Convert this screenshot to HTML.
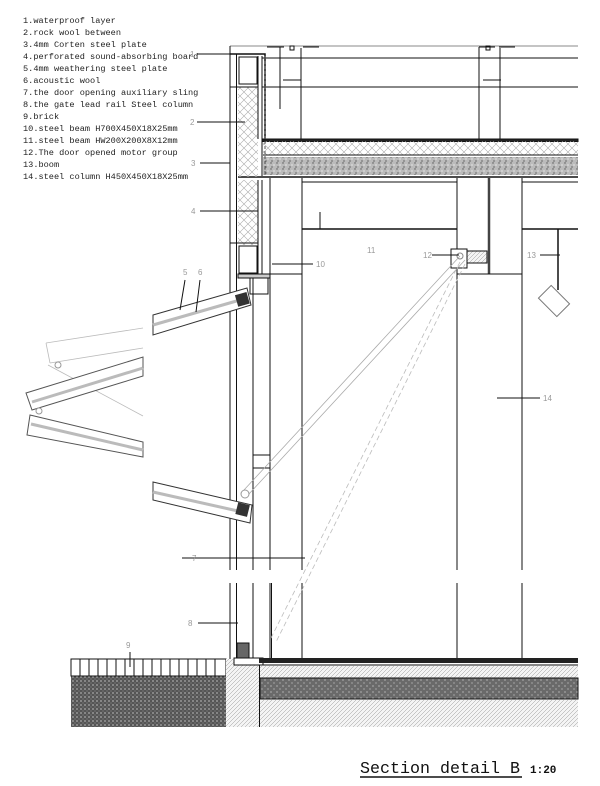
<!DOCTYPE html>
<html><head><meta charset="utf-8"><style>
html,body{margin:0;padding:0;background:#fff;}
svg{display:block;}
.lg{font-family:"Liberation Mono",monospace;font-size:8.6px;fill:#222;}
.lb{font-family:"Liberation Sans",sans-serif;font-size:8px;fill:#999;}
</style></head><body>
<svg width="600" height="786" viewBox="0 0 600 786" xmlns="http://www.w3.org/2000/svg">
<defs>
<pattern id="xh" width="8" height="8" patternUnits="userSpaceOnUse"><path d="M0 0L8 8M8 0L0 8" stroke="#aaa" stroke-width="0.6"/></pattern>
<pattern id="gr" width="6" height="6" patternUnits="userSpaceOnUse"><rect width="6" height="6" fill="#bbb"/><circle cx="1" cy="1" r="0.7" fill="#555"/><circle cx="4" cy="3" r="0.6" fill="#fff"/><circle cx="2" cy="5" r="0.6" fill="#333"/></pattern>
<pattern id="dg" width="6" height="6" patternUnits="userSpaceOnUse"><rect width="6" height="6" fill="#6a6a6a"/><circle cx="1" cy="2" r="0.6" fill="#ddd"/><circle cx="4" cy="5" r="0.5" fill="#fff"/></pattern>
<pattern id="hz" width="4" height="4" patternUnits="userSpaceOnUse"><rect width="4" height="4" fill="#f4f4f4"/><path d="M0 4L4 0" stroke="#999" stroke-width="0.5"/></pattern>
<pattern id="dk" width="4" height="4" patternUnits="userSpaceOnUse"><rect width="4" height="4" fill="#555"/><circle cx="1" cy="1" r="0.6" fill="#fff"/><circle cx="3" cy="3" r="0.4" fill="#ddd"/></pattern>
</defs>

<g class="lg">
<text x="23" y="23">1.waterproof layer</text>
<text x="23" y="35">2.rock wool between</text>
<text x="23" y="47">3.4mm Corten steel plate</text>
<text x="23" y="59">4.perforated sound-absorbing board</text>
<text x="23" y="71">5.4mm weathering steel plate</text>
<text x="23" y="83">6.acoustic wool</text>
<text x="23" y="95">7.the door opening auxiliary sling</text>
<text x="23" y="107">8.the gate lead rail Steel column</text>
<text x="23" y="119">9.brick</text>
<text x="23" y="131">10.steel beam H700X450X18X25mm</text>
<text x="23" y="143">11.steel beam HW200X200X8X12mm</text>
<text x="23" y="155">12.The door opened motor group</text>
<text x="23" y="167">13.boom</text>
<text x="23" y="179">14.steel column H450X450X18X25mm</text>
</g>

<g stroke="#111" fill="none" stroke-width="1">
<line x1="230" y1="46" x2="578" y2="46" stroke="#888"/>
<line x1="262" y1="58" x2="578" y2="58"/>
<line x1="262" y1="87" x2="578" y2="87"/>
<path d="M267 47h17M303 47h16M479 47h16M499 47h16"/>
<rect x="290" y="46" width="4" height="4"/><rect x="486" y="46" width="4" height="4"/>
<path d="M280 47v62M301 48v91M479 47v92M500 48v91M280 58h20M301 78v8M500 78v8M283 80h18M483 80h18"/>
<rect x="262" y="139" width="316" height="2.5" fill="#222"/>
<rect x="263" y="141" width="315" height="14" fill="url(#xh)" stroke="none"/>
<line x1="263" y1="155" x2="578" y2="155"/>
<rect x="263" y="157" width="315" height="18" fill="url(#gr)" stroke="none"/>
<line x1="238" y1="177" x2="578" y2="177" stroke-width="1.5"/>
<line x1="302" y1="182" x2="457" y2="182"/>
<line x1="522" y1="182" x2="578" y2="182"/>
<line x1="230" y1="46" x2="230" y2="570"/>
<line x1="236.5" y1="54" x2="236.5" y2="570"/>
<rect x="238" y="87" width="20" height="90" fill="url(#xh)" stroke="none"/>
<rect x="238" y="180" width="20" height="65" fill="url(#xh)" stroke="none"/>
<path d="M230 54h35v85" stroke-width="1.5"/>
<path d="M258 56v83M262 56v120" />
<path d="M265 56v120" stroke="#555" stroke-dasharray="3 2"/>
<rect x="239" y="57" width="18" height="27"/>
<rect x="239" y="246" width="18" height="27"/>
<path d="M230 243h28M230 87h28"/>
<path d="M238 274h32v4h-32z" fill="#ccc"/>
<path d="M258 180v94M262 180v94" />
<line x1="270" y1="178" x2="270" y2="570"/>
<line x1="302" y1="178" x2="302" y2="570"/>
<line x1="270" y1="274" x2="302" y2="274"/>
<line x1="253" y1="278" x2="253" y2="570"/>
<rect x="250" y="278" width="18" height="16"/>
<line x1="253" y1="455" x2="270" y2="455"/><line x1="253" y1="468" x2="270" y2="468"/>
<line x1="302" y1="229" x2="457" y2="229" stroke-width="1.5"/>
<line x1="522" y1="229" x2="578" y2="229" stroke-width="1.5"/>
<line x1="457" y1="178" x2="457" y2="570"/>
<line x1="522" y1="178" x2="522" y2="570"/>
<line x1="489" y1="178" x2="489" y2="274" stroke-width="2.5" stroke="#444"/>
<line x1="457" y1="274" x2="522" y2="274"/>
<rect x="451" y="249" width="16" height="19" fill="#fff"/>
<circle cx="460" cy="256" r="3" stroke="#888"/>
<rect x="467" y="251" width="20" height="12" fill="url(#hz)"/>
<line x1="558" y1="229" x2="558" y2="290" stroke-width="1.5"/>
<rect x="545" y="288" width="18" height="26" transform="rotate(-45 554 301)" stroke="#777"/>
<path d="M230 583v76M236.5 583v76M253 583v76M270 583v76M302 583v76M457 583v76M522 583v76M271.5 583v76"/>
<path d="M244 490L460 256M249 494L465 260" stroke="#aaa" stroke-width="0.8"/>
<path d="M460 262L270 640M465 264L276 642" stroke="#bbb" stroke-dasharray="5 3" stroke-width="0.8"/>
<circle cx="245" cy="494" r="4" stroke="#999" fill="#fff"/>
</g>

<g stroke="#333" fill="#fff" stroke-width="1">
<polygon points="153,315 247,288 251,305 153,335"/>
<line x1="153" y1="325" x2="240" y2="300" stroke="#bbb" stroke-width="3"/>
<rect x="237" y="294" width="11" height="11" fill="#333" transform="rotate(-16 242 300)"/>
<polygon points="153,482 252,505 250,523 153,500"/>
<line x1="153" y1="492" x2="238" y2="511" stroke="#bbb" stroke-width="3"/>
<rect x="237" y="504" width="11" height="11" fill="#333" transform="rotate(14 242 510)"/>
</g>
<g stroke="#555" fill="#fff" stroke-width="1">
<path d="M46 343L143 328M50 363L143 348M46 343L50 363M48 365L143 416" stroke="#bbb" fill="none" stroke-width="0.8"/>
<polygon points="26,393 143,357 143,376 32,410"/>
<line x1="32" y1="402" x2="143" y2="368" stroke="#bbb" stroke-width="3"/>
<polygon points="30,415 143,442 143,457 27,435"/>
<line x1="31" y1="424" x2="143" y2="450" stroke="#bbb" stroke-width="3"/>
<circle cx="58" cy="365" r="3" stroke="#999"/>
<circle cx="39" cy="411" r="3" stroke="#999"/>
</g>

<g stroke="#111" stroke-width="1">
<rect x="71" y="676" width="155" height="51" fill="url(#dk)" stroke="none"/>
<rect x="71" y="659" width="155" height="17" fill="#fff"/>
<path d="M80 659v17M89 659v17M98 659v17M107 659v17M116 659v17M125 659v17M134 659v17M143 659v17M152 659v17M161 659v17M170 659v17M179 659v17M188 659v17M197 659v17M206 659v17M215 659v17"/>
<rect x="226" y="659" width="34" height="68" fill="url(#hz)" stroke="none"/>
<rect x="234" y="658" width="29" height="7" fill="#fff"/>
<rect x="237" y="643" width="12" height="15" fill="#666"/>
<rect x="259" y="658" width="319" height="5" fill="#222" stroke="none"/>
<rect x="260" y="666" width="318" height="12" fill="url(#hz)" stroke="none"/>
<line x1="260" y1="665" x2="578" y2="665"/>
<rect x="260" y="678" width="318" height="21" fill="url(#dg)" stroke="#111"/>
<rect x="260" y="700" width="318" height="27" fill="url(#hz)" stroke="none"/>
<line x1="259.5" y1="665" x2="259.5" y2="727"/>
</g>

<g stroke="#111" stroke-width="1">
<path d="M197 54H262M197 122H245M200 163H230M200 211H258M272 264H313M182 558H305M198 623H238M130 652V667M320 229V212M459 255H432M540 255H560M497 398H540M185 280L180 310M200 280L196 312"/>
</g>
<g class="lb">
<text x="190" y="57">1</text><text x="190" y="125">2</text><text x="191" y="166">3</text><text x="191" y="214">4</text>
<text x="316" y="267">10</text><text x="367" y="253">11</text><text x="423" y="258">12</text><text x="527" y="258">13</text>
<text x="543" y="401">14</text><text x="183" y="275">5</text><text x="198" y="275">6</text>
<text x="192" y="561">7</text><text x="188" y="626">8</text><text x="126" y="648">9</text>
</g>

<text x="360" y="773" font-family="Liberation Mono,monospace" font-size="17" fill="#111" textLength="160" lengthAdjust="spacingAndGlyphs">Section detail B</text>
<line x1="360" y1="777" x2="522" y2="777" stroke="#111" stroke-width="1.5"/>
<text x="530" y="773" font-family="Liberation Mono,monospace" font-size="11" font-weight="bold" fill="#111">1:20</text>
</svg>
</body></html>
